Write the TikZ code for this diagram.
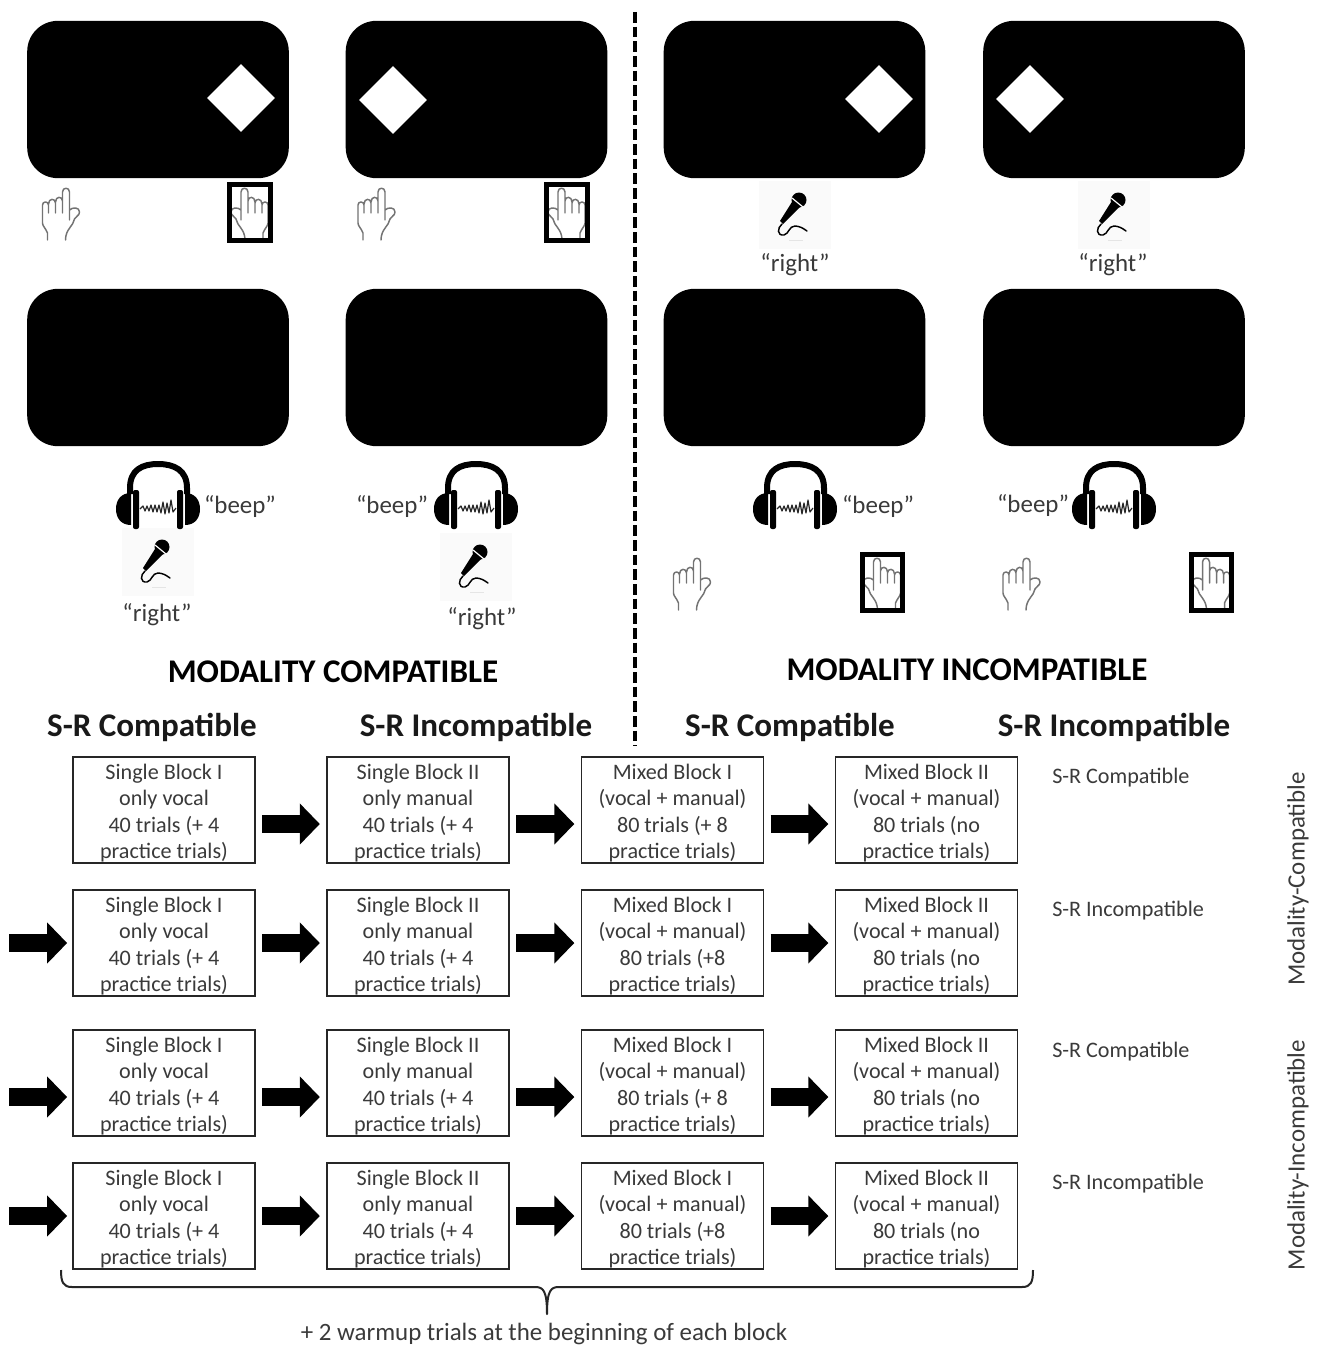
\documentclass[tikz,border=0pt]{standalone}
\usepackage{fontspec}
\setmainfont{Carlito}
\usetikzlibrary{arrows.meta,calc,shapes.geometric}
\definecolor{txt}{HTML}{3A3A3A}
\newcommand\blocktop{\rule{0pt}{16pt}}
\tikzset{
  screen/.style={fill=black,draw=none,rounded corners=23pt,minimum width=196.2pt,minimum height=118pt,inner sep=0},
  stim/.style={diamond,fill=white,draw=none,minimum width=51pt,minimum height=51pt,inner sep=0,aspect=1},
  respbox/.style={draw=black,line width=3.6pt,minimum width=30.5pt,minimum height=42pt,inner sep=0},
  micbg/.style={fill=black!2,draw=none,minimum width=54pt,minimum height=51pt,inner sep=0},
  say/.style={font=\fontsize{18.7}{22}\selectfont,text=txt,inner sep=0},
  title/.style={font=\fontsize{24.8}{29}\selectfont\bfseries,text=black,inner sep=0},
  subtitle/.style={font=\fontsize{24.8}{29}\selectfont\bfseries,text=black!90,inner sep=0},
  block/.style={draw=black!85,line width=1.4pt,fill=white,minimum width=136.5pt,minimum height=79.5pt,inner sep=0,align=center,text=txt,font=\fontsize{16.6}{19.75}\selectfont},
  side/.style={font=\fontsize{16.6}{20}\selectfont,text=txt,inner sep=0},
  flow/.style={line width=13.5pt,draw=black,-{Triangle[length=15pt,width=30pt,fill=black]},shorten >=4.7pt,shorten <=4.7pt},
  pics/hand/.style={code={
    \draw[draw=black!55,line width=1.1pt,line cap=round,line join=round]
      (-13,26) -- (-13,19) .. controls (-15,14) and (-18,12) .. (-18,9) -- (-18,-9)
      .. controls (-18,-13) and (-12,-13) .. (-12,-9) -- (-12,-1)
      (-12,-10) .. controls (-12,-16) and (-5,-16) .. (-5,-11) -- (-5,-1)
      (-5,-12) .. controls (-5,-18) and (2,-18) .. (2,-13)
      (2,-1) -- (2,-22) .. controls (2,-27) and (9,-27) .. (9,-22) -- (9,6)
      (9,-4) .. controls (12,-7) and (19,-7) .. (19,-2) .. controls (19,2) and (15,2) .. (14,5)
      .. controls (13,12) and (5,15) .. (5,26);
  }},
  pics/phones/.style={code={
    \draw[line width=4.5pt,black] (-28,-14) -- (-28,-20) .. controls (-28,-38) and (-16,-44) .. (0,-44) .. controls (16,-44) and (29,-38) .. (29,-20) -- (29,-14);
    \fill[black,rounded corners=1.5pt] (-25,-18) rectangle (-19,21);
    \fill[black,rounded corners=1.5pt] (19,-18) rectangle (25,21);
    \fill[black] (-27,-15) .. controls (-37,-15) and (-42,-8) .. (-42,1) .. controls (-42,10) and (-37,17) .. (-27,17) -- cycle;
    \fill[black] (27,-15) .. controls (37,-15) and (42,-8) .. (42,1) .. controls (42,10) and (37,17) .. (27,17) -- cycle;
    \draw[black!85,line width=.9pt,line join=round] (-18,1) -- (-15,-2) -- (-13,3) -- (-11,-2) -- (-9,3) -- (-7,-3) -- (-5,4) -- (-3,-3) -- (-1,4) -- (1,-3) -- (3,5) -- (5,-6) -- (7,6) -- (9,-5) -- (11,5) -- (13,-8) -- (15,4) -- (18,0);
  }},
  pics/mic/.style={code={
    \fill[black!10] (-6,25) rectangle (8,26);
    \fill[black] (-12,9) -- (-15,6) -- (-3,-13) -- (5,-8) -- cycle;
    \fill[black] (4,-15) circle (7.5);
    \draw[white,line width=.9pt] (-3,-17) -- (8,-8);
    \draw[black,line width=1.1pt,line cap=round] (-13,9) .. controls (-18,13) and (-18,21) .. (-11,20) .. controls (-6,19) and (-6,11) .. (0,11) .. controls (4,11) and (8,13) .. (12,16);
  }}
}
\begin{document}
\begin{tikzpicture}[x=0.75pt,y=-0.75pt]
\useasboundingbox (0,0) rectangle (1322,1345);
\fill[white] (0,0) rectangle (1322,1345);

% screens
\node[screen] (s1) at (158,99.5) {};
\node[screen] (s2) at (476.5,99.5) {};
\node[screen] (s3) at (794.5,99.5) {};
\node[screen] (s4) at (1114,99.5) {};
\node[screen] (s5) at (158,367.5) {};
\node[screen] (s6) at (476.5,367.5) {};
\node[screen] (s7) at (794.5,367.5) {};
\node[screen] (s8) at (1114,367.5) {};
\node[stim] (d1) at (241,98) {};
\node[stim] (d2) at (393,100) {};
\node[stim] (d3) at (879,99) {};
\node[stim] (d4) at (1030,99) {};

% hands, top left
\pic at (60.5,214) {hand};
\pic[xscale=-1] at (250,214) {hand};
\node[respbox] (r1) at (250,212.5) {};
\pic at (376,214) {hand};
\pic[xscale=-1] at (567,214) {hand};
\node[respbox] (r2) at (567,212.5) {};
% hands, bottom right
\pic at (691.5,584) {hand};
\pic[xscale=-1] at (882.5,584) {hand};
\node[respbox] (r3) at (882.5,582.5) {};
\pic at (1021,584) {hand};
\pic[xscale=-1] at (1211.5,584) {hand};
\node[respbox] (r4) at (1211.5,582.5) {};

% microphones
\node[micbg] (m1) at (795,215) {};
\pic at (795,215) {mic};
\node[micbg] (m2) at (1114,215) {};
\pic at (1114,215) {mic};
\node[micbg] (m3) at (158,562) {};
\pic at (158,562) {mic};
\node[micbg] (m4) at (476,567) {};
\pic at (476,567) {mic};

% headphones
\pic at (158,508) {phones};
\pic at (476,508) {phones};
\pic at (795,508) {phones};
\pic at (1114,508) {phones};

% spoken words
\node[say] (t1) at (795,265) {“right”};
\node[say] (t2) at (1113,265) {“right”};
\node[say] (t3) at (157,615) {“right”};
\node[say] (t4) at (482,619) {“right”};
\node[say] (t5) at (240,507) {“beep”};
\node[say] (t6) at (392,507) {“beep”};
\node[say] (t7) at (878,507) {“beep”};
\node[say] (t8) at (1033,506) {“beep”};

% divider
\coordinate (dtop) at (635,12);
\coordinate (dbot) at (635,746);
\draw[line width=3pt,black,dash pattern=on 8pt off 3pt] (dtop) -- (dbot);

% headings
\node[title] (h1) at (333,672) {MODALITY COMPATIBLE};
\node[title] (h2) at (967,670) {MODALITY INCOMPATIBLE};
\node[subtitle] (c1) at (152,727) {S-R Compatible};
\node[subtitle] (c2) at (476,727) {S-R Incompatible};
\node[subtitle] (c3) at (790,727) {S-R Compatible};
\node[subtitle] (c4) at (1114,727) {S-R Incompatible};

% blocks
\foreach \r/\yy/\pr/\off in {1/810/+ 8/14, 2/943/+8/0, 3/1083/+ 8/14, 4/1216/+8/0} {
  \node[block] (b\r1) at (164,\yy) {\blocktop Single Block I\\only vocal\\40 trials (+ 4\\practice trials)};
  \node[block] (b\r2) at (418,\yy) {\blocktop Single Block II\\only manual\\40 trials (+ 4\\practice trials)};
  \node[block] (b\r3) at (672.5,\yy) {\blocktop Mixed Block I\\(vocal + manual)\\80 trials (\pr\\practice trials)};
  \node[block] (b\r4) at (926.5,\yy) {\blocktop Mixed Block II\\(vocal + manual)\\80 trials (no\\practice trials)};
  \draw[flow] ($(b\r1.east)+(0,\off)$) -- ($(b\r2.west)+(0,\off)$);
  \draw[flow] ($(b\r2.east)+(0,\off)$) -- ($(b\r3.west)+(0,\off)$);
  \draw[flow] ($(b\r3.east)+(0,\off)$) -- ($(b\r4.west)+(0,\off)$);
}
\coordinate (in2) at (3,943);
\coordinate (in3) at (3,1097);
\coordinate (in4) at (3,1216);
\draw[flow,shorten >=3.7pt] (in2) -- (b21.west);
\draw[flow,shorten >=3.7pt] (in3) -- ($(b31.west)+(0,14)$);
\draw[flow,shorten >=3.7pt] (in4) -- (b41.west);

% side labels
\node[side,anchor=west] (l1) at (1052,778) {S-R Compatible};
\node[side,anchor=west] (l2) at (1052,911) {S-R Incompatible};
\node[side,anchor=west] (l3) at (1052,1052) {S-R Compatible};
\node[side,anchor=west] (l4) at (1052,1184) {S-R Incompatible};
\node[side,rotate=90,font=\fontsize{18.7}{22}\selectfont] (v1) at (1298,879) {Modality-Compatible};
\node[side,rotate=90,font=\fontsize{18.7}{22}\selectfont] (v2) at (1298,1155) {Modality-Incompatible};

% brace
\node[say] (note) at (544,1333.5) {+ 2 warmup trials at the beginning of each block};
\draw[black!85,line width=1.5pt,line join=round]
  (61,1270) .. controls (61,1282) and (63,1287) .. (72,1287) -- (535,1287)
  .. controls (543,1287) and (547,1290) .. (547,1314)
  .. controls (547,1290) and (551,1287) .. (559,1287) -- (1022,1287)
  .. controls (1031,1287) and (1033,1282) .. (1033,1270);
\end{tikzpicture}
\end{document}
